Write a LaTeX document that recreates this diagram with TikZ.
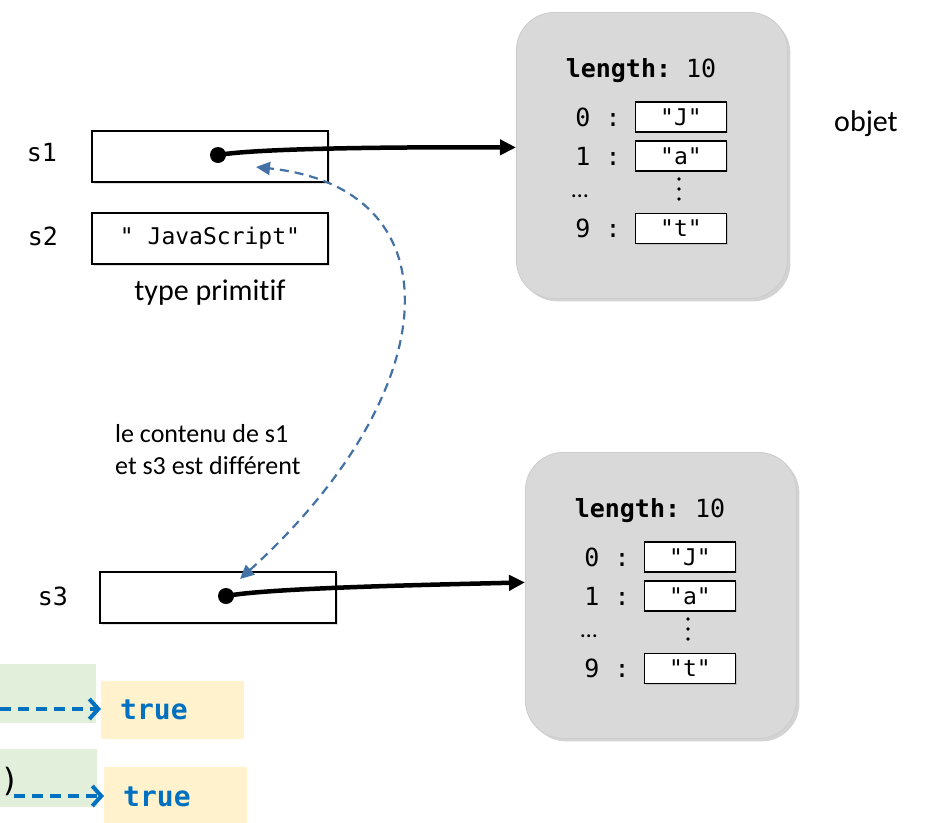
\documentclass[tikz,border=0pt]{standalone}
\usepackage{fontspec}
\setmainfont{Carlito}[Ligatures=NoCommon]
\setmonofont{DejaVu Sans Mono}
\usepackage{xcolor}
\usepackage{tikz}
\usetikzlibrary{arrows.meta,positioning,shadows}

\definecolor{objgray}{RGB}{217,217,217}
\definecolor{codegreen}{RGB}{226,239,218}
\definecolor{codeyellow}{RGB}{255,242,204}
\definecolor{resblue}{RGB}{0,112,192}
\definecolor{refblue}{RGB}{68,114,164}

\begin{document}
\begin{tikzpicture}[
    x=1pt, y=-1pt,
    >=Stealth,
    var/.style={font=\ttfamily\fontsize{25}{29}\selectfont},
    cell/.style={rectangle, draw, line width=1.3pt, fill=white, minimum width=236pt, minimum height=51pt,
                 inner sep=0pt, font=\ttfamily\fontsize{23}{27}\selectfont,
                 drop shadow={shadow xshift=1.5pt, shadow yshift=-1.5pt, opacity=.25}},
    objet/.style={rectangle, rounded corners=38pt, fill=objgray, draw=gray!40, line width=.8pt,
                  minimum width=271pt, minimum height=286pt, anchor=north west,
                  drop shadow={shadow xshift=3pt, shadow yshift=-3pt, opacity=.35}},
    slot/.style={rectangle, draw, line width=1.2pt, fill=white, minimum width=91pt, minimum height=30pt,
                 inner sep=0pt, font=\ttfamily\fontsize{23}{27}\selectfont,
                 drop shadow={shadow xshift=1pt, shadow yshift=-1pt, opacity=.3}},
    mono/.style={font=\ttfamily\fontsize{25}{29}\selectfont},
    note/.style={font=\fontsize{30}{36}\selectfont},
    ptr/.style={line width=4.5pt, -{Triangle[length=16pt, width=15pt]}},
    dot/.style={circle, fill, inner sep=0pt, minimum size=16pt},
    same/.style={refblue, line width=2.2pt, dash pattern=on 9pt off 6pt,
                 {Triangle[length=14pt, width=13pt]}-{Triangle[length=14pt, width=13pt]}},
    res/.style={-{Straight Barb[length=9pt, width=20pt, line width=4pt]}, resblue, line width=4pt,
                dash pattern=on 11pt off 7pt},
    result/.style={fill=codeyellow, minimum width=143pt, anchor=north west, inner sep=0pt,
                   font=\ttfamily\bfseries\fontsize{28}{32}\selectfont, text=resblue},
]
\useasboundingbox (0,0) rectangle (925,822);

% --- Variables ---
\node[var] (l1) at (42,153) {s1};
\node[cell] (s1) at (210,156.5) {};
\node[dot] (d1) at (218,155) {};

\node[var] (l2) at (43,236) {s2};
\node[cell] (s2) at (210,238.5) {" JavaScript"};
\node[note, below=12pt of s2] (prim) {type primitif};

\node[var] (l3) at (53,596) {s3};
\node[cell] (s3) at (218,597.5) {};
\node[dot] (d3) at (226,596) {};

% --- Objects ---
\foreach \o/\ox/\oy in {1/516/12, 2/525/452} {
    \node[objet] (obj\o) at (\ox,\oy) {};
    \node[mono, anchor=base] (len\o) at (\ox+125,\oy+65) {\textbf{length:} 10};
    \foreach \i/\v/\ry in {0/J/105, 1/a/144, 9/t/216.5} {
        \node[mono] (idx\o\i) at (\ox+82,\oy+\ry) {\i{} :};
        \node[slot] (val\o\i) at (\ox+165,\oy+\ry) {"\v"};
    }
    \node[font=\fontsize{24}{28}\selectfont] (etc\o) at (\ox+64,\oy+184) {…};
    \foreach \k in {0,1,2} {
        \node[circle, fill, inner sep=0pt, minimum size=3.6pt] (vd\o\k) at (\ox+163,\oy+167+\k*10) {};
    }
}
\node[note] (objlbl) at (866,124) {objet};

% --- References ---
\draw[ptr] (d1.center) .. controls (260,148) and (400,147) .. ([yshift=8pt]obj1.west);
\draw[ptr] (d3.center) .. controls (270,588) and (420,585) .. ([yshift=13pt]obj2.west);

% --- Comparison ---
\draw[same] (240,579) .. controls (448,390) and (458,188) .. (256,167);
\node[font=\fontsize{26}{32}\selectfont, align=left, anchor=north west, inner sep=0pt] (diff) at (115,424)
    {le contenu de s1\\et s3 est différent};

% --- Results ---
\node[fill=codegreen, minimum width=96pt, minimum height=59pt, anchor=north west, inner sep=0pt] (c1) at (0,664) {};
\node[fill=codegreen, minimum width=97pt, minimum height=58pt, anchor=north west, inner sep=0pt] (c2) at (0,749) {};
\node[result, minimum height=58pt] (r1) at (101,681) {};
\node[result, minimum height=56pt] (r2) at (104,767) {};
\node[result, fill=none, minimum width=0pt, anchor=west] (t1) at (120,710) {true};
\node[result, fill=none, minimum width=0pt, anchor=west] (t2) at (123,797) {true};
\node[font=\ttfamily\fontsize{32}{36}\selectfont, anchor=west, inner sep=0pt] (paren) at (0,781) {)};
\coordinate (a1) at (0,709);
\coordinate (a2) at (14,796);
\draw[res] (a1) -- (a1 -| r1.west);
\draw[res] (a2) -- (a2 -| r2.west);
\end{tikzpicture}
\end{document}
